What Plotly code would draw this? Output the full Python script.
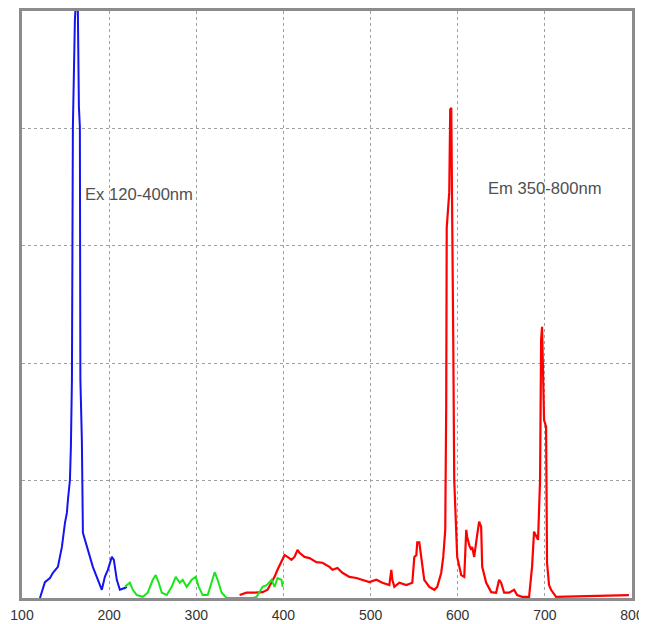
import plotly.graph_objects as go

# Excitation spectrum, blue part (nm, intensity)
ex_blue_nm = [120.6, 126.3, 132.1, 135.5, 141.2, 145.8, 149.3, 151.5, 152.7, 155.0,
              156.1, 157.3, 158.4, 160.7, 162.4, 164.1, 165.3, 166.4, 167.0, 168.7,
              169.9, 174.5, 177.9, 181.3, 187.1, 191.6, 195.1, 198.5, 203.1, 205.4,
              208.8, 212.3, 218.0, 220.3]
ex_blue_val = [0.0, 2.7, 3.4, 4.3, 5.3, 8.7, 12.8, 14.5, 16.7, 20.1,
               25.7, 37.2, 80.3, 98.5, 103.0, 100.0, 83.7, 80.3, 37.2, 26.9,
               11.1, 8.7, 7.0, 5.3, 3.1, 1.4, 3.6, 4.8, 7.0, 6.5,
               3.1, 1.4, 1.7, 1.9]

# Excitation spectrum, green part
ex_green_nm = [218.0, 223.7, 227.2, 231.7, 238.6, 244.3, 250.1, 253.5, 256.9, 260.4,
               266.1, 271.8, 276.4, 281.0, 284.4, 289.0, 294.7, 299.3, 302.8, 307.3,
               313.1, 318.8, 321.1, 324.5, 329.1, 334.8, 345.0, 355.0, 365.0, 369.2,
               376.1, 380.7, 386.4, 389.8, 393.2, 397.8, 399.0]
ex_green_val = [1.9, 2.6, 1.4, 0.5, 0.2, 0.9, 3.1, 3.9, 2.6, 0.9,
                0.5, 1.9, 3.6, 2.6, 3.1, 1.9, 3.1, 3.6, 1.9, 0.5,
                0.5, 3.6, 4.4, 3.1, 0.9, 0.0, 0.0, 0.0, 0.0, 0.2,
                1.9, 2.2, 3.1, 1.9, 3.4, 3.1, 1.9]

# Emission spectrum, red
em_red_nm = [349.7, 357.7, 366.9, 376.1, 381.8, 386.4, 389.8, 393.2, 397.8, 401.3,
             404.7, 409.3, 412.7, 416.2, 418.4, 424.2, 429.9, 437.9, 444.8, 452.8,
             456.3, 462.0, 467.7, 475.7, 483.7, 490.6, 498.6, 506.7, 513.5, 521.5,
             523.8, 525.0, 527.3, 533.0, 541.0, 547.9, 550.2, 552.5, 553.6, 555.9,
             558.2, 561.6, 567.4, 573.1, 576.5, 581.1, 583.4, 585.7, 586.8, 587.4,
             590.3, 591.4, 592.6, 593.7, 594.9, 596.0, 598.3, 599.4, 604.0, 607.5,
             609.8, 610.9, 613.2, 615.5, 616.6, 618.9, 622.3, 624.6, 626.9, 628.1,
             632.7, 638.4, 644.1, 647.5, 649.8, 653.3, 659.0, 664.7, 668.2, 673.9,
             681.9, 685.3, 687.6, 689.9, 692.2, 694.5, 695.7, 696.8, 699.1, 701.4,
             702.5, 704.8, 707.1, 712.9, 739.2, 762.1, 785.0, 796.5]
em_red_val = [0.5, 0.9, 0.9, 1.0, 1.4, 2.6, 3.6, 4.8, 6.1, 7.3,
              7.0, 6.5, 7.0, 8.2, 7.7, 7.0, 6.8, 6.1, 6.0, 5.3,
              4.8, 5.1, 4.3, 3.6, 3.4, 3.1, 2.7, 3.1, 2.6, 2.2,
              4.8, 3.1, 1.9, 2.6, 2.2, 2.6, 7.0, 7.3, 9.5, 9.5,
              6.5, 3.1, 1.9, 1.4, 1.9, 4.3, 7.0, 11.6, 32.9, 63.1,
              69.1, 83.2, 83.5, 67.9, 43.5, 20.1, 8.7, 7.0, 3.9, 3.6,
              11.6, 10.4, 9.0, 8.2, 8.7, 7.0, 10.7, 13.0, 12.1, 5.3,
              2.6, 1.0, 0.9, 3.1, 2.6, 0.9, 0.9, 1.4, 0.5, 0.2,
              0.2, 5.3, 11.3, 10.7, 9.9, 20.1, 44.0, 46.2, 30.3, 29.2,
              6.0, 2.2, 1.4, 0.2, 0.3, 0.3, 0.5, 0.5]

x_tick_vals = [100, 200, 300, 400, 500, 600, 700, 800]
x_tick_text = ["100", "200", "300", "400", "500", "600", "700", "800"]

label_ex = "Ex 120-400nm"
label_em = "Em 350-800nm"

fig = go.Figure()
fig.add_trace(go.Scatter(x=em_red_nm, y=em_red_val, mode="lines",
                         line=dict(color="#ff0000", width=2.2), showlegend=False))
fig.add_trace(go.Scatter(x=ex_blue_nm, y=ex_blue_val, mode="lines",
                         line=dict(color="#1414f0", width=2), showlegend=False))
fig.add_trace(go.Scatter(x=ex_green_nm, y=ex_green_val, mode="lines",
                         line=dict(color="#19e619", width=2), showlegend=False))

fig.add_annotation(x=234.6, y=68.8, text=label_ex, showarrow=False,
                   font=dict(family="Liberation Sans, Arial", size=16.6, color="#505050"))
fig.add_annotation(x=699.7, y=69.8, text=label_em, showarrow=False,
                   font=dict(family="Liberation Sans, Arial", size=16.6, color="#505050"))

# page body adds an 8px margin, so the figure is sized to fill the rest of the window
fig.update_layout(
    width=639, height=616,
    margin=dict(l=14, r=15, t=3, b=26, pad=0),
    paper_bgcolor="white", plot_bgcolor="white",
    font=dict(family="Liberation Sans, Arial", size=14, color="#333333"),
)
fig.update_xaxes(range=[100, 800], tickvals=x_tick_vals, ticktext=x_tick_text,
                 showgrid=True, gridcolor="#a0a0a0", griddash="dot", gridwidth=1,
                 showline=True, mirror=True, linecolor="#8c8c8c", linewidth=3,
                 ticks="", ticklabelstandoff=2, zeroline=False, automargin=False)
fig.update_yaxes(range=[0, 100], dtick=20, showticklabels=False,
                 showgrid=True, gridcolor="#a0a0a0", griddash="dot", gridwidth=1,
                 showline=True, mirror=True, linecolor="#8c8c8c", linewidth=3,
                 ticks="", zeroline=False, automargin=False)

fig.write_html("out.html")
